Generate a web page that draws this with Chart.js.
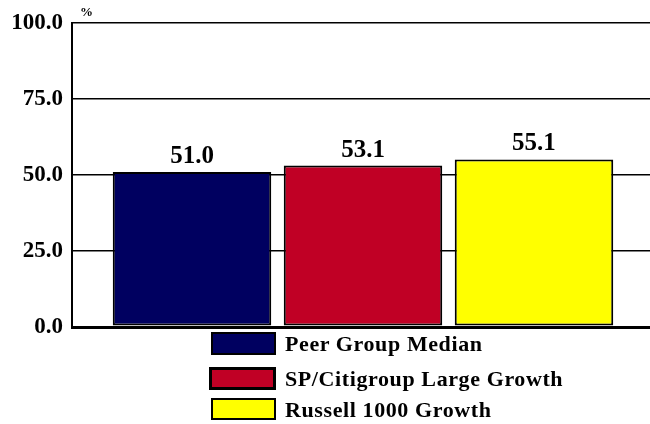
<!DOCTYPE html>
<html>
<head>
<meta charset="utf-8">
<script src="https://cdn.jsdelivr.net/npm/chart.js@4.4.1/dist/chart.umd.min.js"></script>
<style>
  html, body { margin: 0; padding: 0; background: #fff; }
  #wrap { position: relative; width: 650px; height: 424px; overflow: hidden; }
  #c { position: absolute; left: 0; top: 0; }
  .lg { position: absolute; font-family: "Liberation Serif", serif; font-weight: bold; font-size: 22px; letter-spacing: 0.6px; color: #000; white-space: nowrap; line-height: 1; }
  .bx { position: absolute; box-sizing: border-box; border: 2px solid #000; }
</style>
</head>
<body>
<div id="wrap">
  <canvas id="c" width="654" height="424"></canvas>
</div>
<script>
const categories = [""];
const seriesNames = ["Peer Group Median", "SP/Citigroup Large Growth", "Russell 1000 Growth"];
const seriesValues = [51.0, 53.1, 55.1];
const seriesColors = ["#000060", "#C00025", "#FFFF00"];
const yTicks = [0, 25, 50, 75, 100];

const FONT = '"Liberation Serif", serif';

const datasets = seriesNames.map((n, i) => ({
  label: n,
  data: [seriesValues[i]],
  backgroundColor: seriesColors[i],
  borderColor: "#000",
  borderWidth: 2,
  borderSkipped: false
}));

const labelPlugin = {
  id: 'valLabels',
  afterDatasetsDraw(chart) {
    const ctx = chart.ctx;
    ctx.save();
    ctx.font = 'bold 25px ' + FONT;
    ctx.fillStyle = '#000';
    ctx.textAlign = 'center';
    ctx.textBaseline = 'alphabetic';
    chart.data.datasets.forEach((ds, i) => {
      const meta = chart.getDatasetMeta(i);
      meta.data.forEach((bar, j) => {
        ctx.fillText(ds.data[j].toFixed(1), bar.x, bar.y - 9);
      });
    });
    // percent unit
    ctx.font = 'bold 13px ' + FONT;
    ctx.textAlign = 'left';
    ctx.fillText('%', chart.chartArea.left + 8, chart.chartArea.top - 7);
    ctx.restore();
  }
};

new Chart(document.getElementById('c'), {
  type: 'bar',
  data: { labels: categories, datasets },
  options: {
    responsive: false,
    animation: false,
    devicePixelRatio: 1,
    layout: { padding: { top: 23, bottom: 97, left: 0, right: 0 } },
    plugins: { legend: { display: false }, tooltip: { enabled: false } },
    datasets: { bar: { categoryPercentage: 0.8814, barPercentage: 0.927 } },
    scales: {
      x: { display: false },
      y: {
        min: 0, max: 100,
        afterBuildTicks(scale) { scale.ticks = yTicks.map(v => ({ value: v })); },
        afterFit(scale) { scale.width = 72; },
        ticks: {
          callback: v => Number(v).toFixed(1),
          color: '#000',
          font: { family: FONT, weight: 'bold', size: 23 },
          padding: 9
        },
        grid: {
          color: '#000',
          lineWidth: c => (c.tick && c.tick.value === 0 ? 3 : 1.5),
          drawTicks: false
        },
        border: { display: true, color: '#000', width: 2 }
      }
    }
  },
  plugins: [labelPlugin]
});

// legend (HTML, built from the series arrays)
const boxPos = [[211, 332, 65, 23], [209, 367, 67, 23], [211, 398, 65, 22]];
const wrap = document.getElementById('wrap');
seriesNames.forEach((n, i) => {
  const [x, y, w, h] = boxPos[i];
  const b = document.createElement('div');
  b.className = 'bx';
  b.style.left = x + 'px'; b.style.top = y + 'px';
  b.style.width = w + 'px'; b.style.height = h + 'px';
  b.style.background = seriesColors[i];
  if (i === 1) b.style.borderWidth = '3px';
  wrap.appendChild(b);
  const t = document.createElement('div');
  t.className = 'lg';
  t.textContent = n;
  t.style.left = '285px';
  t.style.top = (y + 1) + 'px';
  wrap.appendChild(t);
});
</script>
</body>
</html>
